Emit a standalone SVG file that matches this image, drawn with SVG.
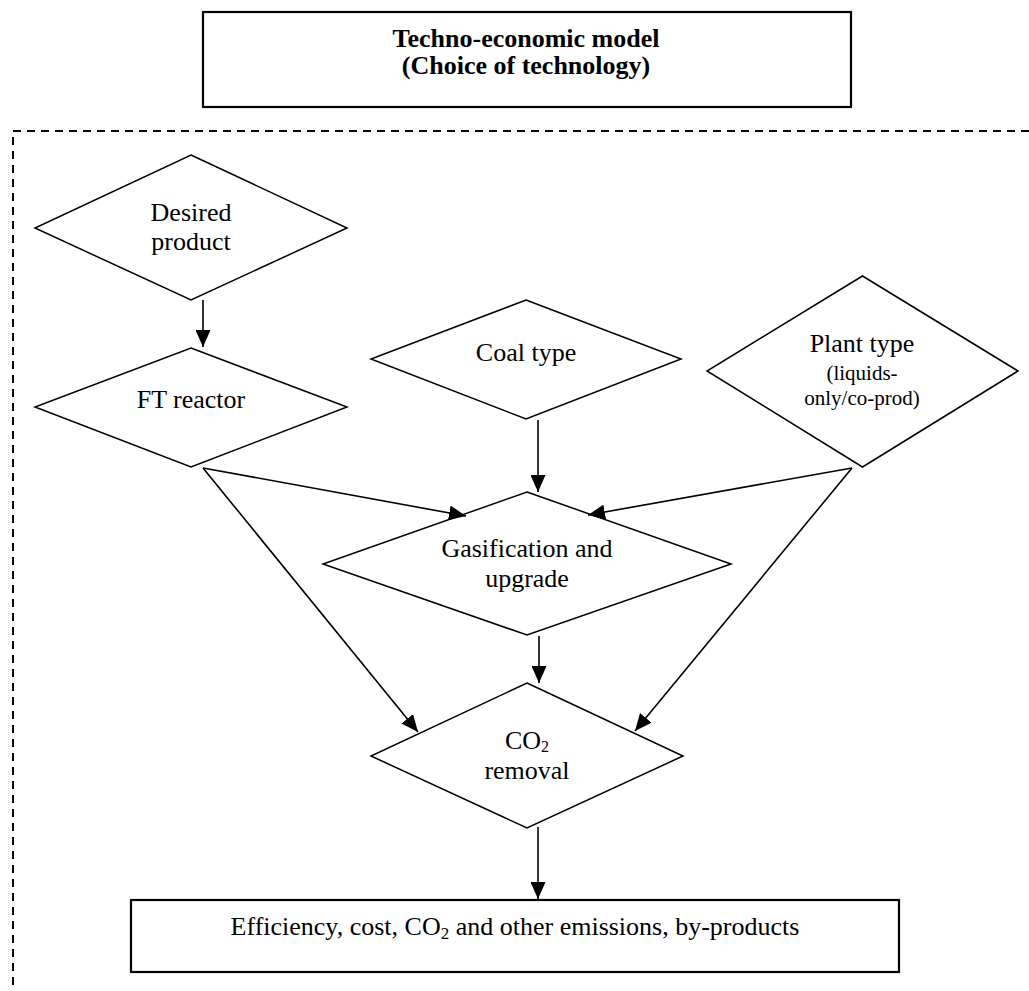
<svg xmlns="http://www.w3.org/2000/svg" width="1029" height="991" viewBox="0 0 1029 991">
<style>
.shape{fill:#fff;stroke:#000;stroke-width:1.5}
.box{fill:#fff;stroke:#000;stroke-width:2.2}
.t{font-family:"Liberation Serif","Times New Roman",serif;font-size:26px;fill:#000;text-anchor:middle}
.b{font-weight:bold}
.s{font-size:21px}
.conn line{stroke:#000;stroke-width:1.6;marker-end:url(#ah)}
.dash{fill:none;stroke:#000;stroke-width:2;stroke-dasharray:8 6}
</style>
<defs>
<marker id="ah" markerUnits="userSpaceOnUse" markerWidth="17" markerHeight="15" refX="17" refY="7.5" orient="auto">
<path d="M0,0 L17,7.5 L0,15 z" fill="#000"/>
</marker>
</defs>
<rect width="1029" height="991" fill="#fff"/>
<path class="dash" d="M1029,131 H13 V991"/>
<g id="model">
<rect class="box" x="203" y="12" width="648" height="95"/>
<text class="t b" x="526" y="47">Techno-economic model</text>
<text class="t b" x="526" y="74">(Choice of technology)</text>
</g>
<g id="desired">
<polygon class="shape" points="191,155 347,228 191,300 35,228"/>
<text class="t" x="191" y="221">Desired</text>
<text class="t" x="191" y="250">product</text>
</g>
<g id="ft">
<polygon class="shape" points="191,348 347,407 191,467 35,407"/>
<text class="t" x="191" y="408">FT reactor</text>
</g>
<g id="coal">
<polygon class="shape" points="526,300 681,359 526,419 371,359"/>
<text class="t" x="526" y="361">Coal type</text>
</g>
<g id="plant">
<polygon class="shape" points="862.5,276 1018,371 862.5,467 707,371"/>
<text class="t" x="862" y="352">Plant type</text>
<text class="t s" x="862" y="380">(liquids-</text>
<text class="t s" x="862" y="405">only/co-prod)</text>
</g>
<g id="gasification">
<polygon class="shape" points="527,492 731,564 527,635 323,564"/>
<text class="t" x="527" y="557">Gasification and</text>
<text class="t" x="527" y="587">upgrade</text>
</g>
<g id="co2">
<polygon class="shape" points="527,683 683,756 527,828 371,756"/>
<text class="t" x="527" y="749">CO<tspan font-size="16" dy="3">2</tspan></text>
<text class="t" x="527" y="779">removal</text>
</g>
<g id="output">
<rect class="box" x="131" y="900" width="768" height="72"/>
<text class="t" x="515" y="935">Efficiency, cost, CO<tspan font-size="17" dy="4">2</tspan><tspan dy="-4"> and other emissions, by-products</tspan></text>
</g>
<g id="connectors" class="conn">
<line x1="203" y1="300" x2="203" y2="347"/>
<line x1="538" y1="420" x2="538" y2="492"/>
<line x1="203" y1="468" x2="466" y2="516"/>
<line x1="852" y1="468" x2="588" y2="515"/>
<line x1="203" y1="468" x2="418" y2="732"/>
<line x1="852" y1="468" x2="635" y2="731"/>
<line x1="539" y1="636" x2="539" y2="683"/>
<line x1="538" y1="827" x2="538" y2="899"/>
</g>
</svg>
